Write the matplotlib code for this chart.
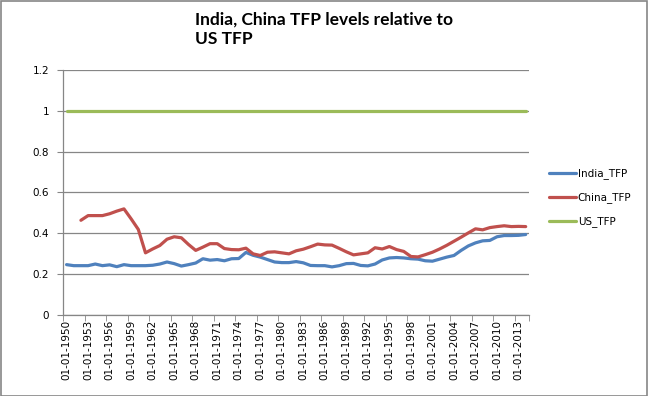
import matplotlib
matplotlib.use("Agg")
import matplotlib.pyplot as plt
from matplotlib.patches import Rectangle

years = list(range(1950, 2015))

india_tfp = [0.245, 0.240, 0.240, 0.240, 0.248, 0.240, 0.244, 0.235, 0.245, 0.240,
             0.240, 0.240, 0.242, 0.248, 0.258, 0.250, 0.238, 0.245, 0.253, 0.274,
             0.267, 0.270, 0.264, 0.274, 0.275, 0.305, 0.291, 0.282, 0.270, 0.258,
             0.255, 0.255, 0.260, 0.254, 0.241, 0.240, 0.240, 0.234, 0.240, 0.250,
             0.251, 0.241, 0.239, 0.248, 0.268, 0.278, 0.280, 0.278, 0.274, 0.272,
             0.264, 0.262, 0.272, 0.282, 0.290, 0.315, 0.337, 0.352, 0.362, 0.364,
             0.382, 0.388, 0.388, 0.389, 0.393]

# China series starts in 1952
china_tfp = [None, None,
             0.463, 0.486, 0.486, 0.486, 0.495, 0.508, 0.519, 0.470,
             0.418, 0.303, 0.322, 0.339, 0.370, 0.382, 0.377, 0.344, 0.315, 0.331,
             0.348, 0.348, 0.324, 0.319, 0.318, 0.326, 0.298, 0.290, 0.306, 0.308,
             0.303, 0.298, 0.313, 0.321, 0.333, 0.346, 0.342, 0.341, 0.325, 0.308,
             0.293, 0.298, 0.303, 0.328, 0.322, 0.334, 0.319, 0.310, 0.285, 0.283,
             0.294, 0.306, 0.322, 0.340, 0.360, 0.380, 0.401, 0.421, 0.416, 0.427,
             0.432, 0.436, 0.432, 0.433, 0.432]

us_tfp = [1.0] * len(years)

tick_labels = ["01-01-%d" % y for y in years]

fig = plt.figure(figsize=(6.48, 3.96), dpi=100)
ax = fig.add_axes([0.0972, 0.2058, 0.8168 - 0.0972, 0.8225 - 0.2058])

x = list(range(len(years)))
china_x = [i for i in x if china_tfp[i] is not None]
china_y = [china_tfp[i] for i in china_x]

ax.plot(x, india_tfp, color="#4F81BD", lw=2.3, label="India_TFP", solid_capstyle="round")
ax.plot(china_x, china_y, color="#C0504D", lw=2.3, label="China_TFP", solid_capstyle="round")
ax.plot(x, us_tfp, color="#9BBB59", lw=2.3, label="US_TFP", solid_capstyle="round")

ax.set_xlim(-0.5, len(years) - 0.5)
ax.set_ylim(0, 1.2)
ax.set_yticks([0, 0.2, 0.4, 0.6, 0.8, 1.0, 1.2])
ax.set_yticklabels(["0", "0.2", "0.4", "0.6", "0.8", "1", "1.2"])
ax.yaxis.grid(True, color="#868686", lw=0.9)
ax.set_axisbelow(True)

ax.set_xticks(x[::3])
ax.set_xticklabels(tick_labels[::3], rotation=90)
ax.set_xticks([i - 0.5 for i in x[::3]] + [len(years) - 0.5], minor=True)
ax.tick_params(axis="x", which="major", length=0, pad=4)
ax.tick_params(axis="x", which="minor", length=4, color="#868686", direction="out")
ax.tick_params(axis="y", length=4, color="#868686", pad=6)
ax.tick_params(labelsize=7.5)

for s in ["top", "right"]:
    ax.spines[s].set_visible(False)
for s in ["left", "bottom"]:
    ax.spines[s].set_color("#868686")
    ax.spines[s].set_linewidth(0.9)

fig.legend(loc="upper left", bbox_to_anchor=(0.832, 0.598), frameon=False,
           fontsize=7.5, handlelength=2.6, handletextpad=0.2, labelspacing=1.25)

fig.text(0.301, 0.972, "India, China TFP levels relative to\nUS TFP", fontsize=12.5,
         fontweight="bold", family="Lato", ha="left", va="top", linespacing=1.3)

fig.patches.append(Rectangle((0.001, 0.001), 0.997, 0.997, transform=fig.transFigure,
                             fill=False, edgecolor="#868686", lw=1.2))

fig.savefig("out.png", dpi=100)
